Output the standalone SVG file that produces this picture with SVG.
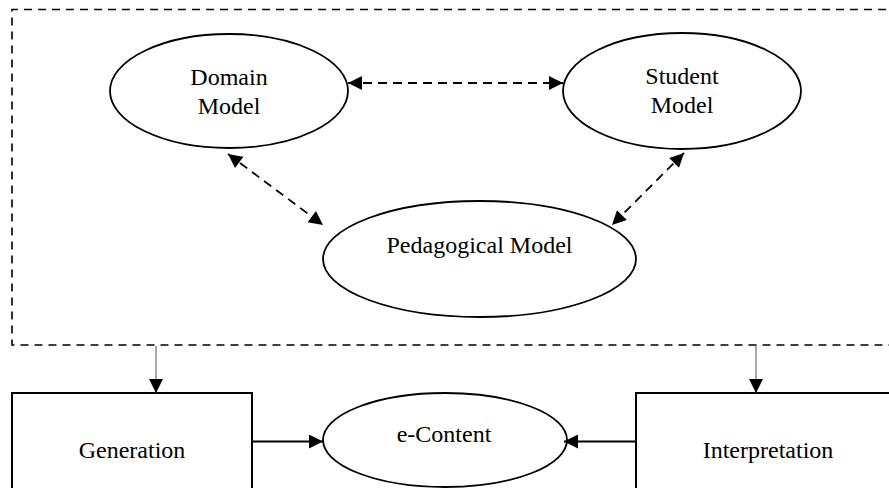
<svg xmlns="http://www.w3.org/2000/svg" width="889" height="488" viewBox="0 0 889 488">
<style>
.ell{fill:#fff;stroke:#000;stroke-width:1.8}
.box{fill:#fff;stroke:#000;stroke-width:2}
.frame{fill:none;stroke:#000;stroke-width:1.6;stroke-dasharray:8 6}
.dash{fill:none;stroke:#000;stroke-width:1.8;stroke-dasharray:9 6}
.solid{fill:none;stroke:#000;stroke-width:1.8}
.thin{fill:none;stroke:#555;stroke-width:1}
text{font-family:"Liberation Serif","Times New Roman",serif;font-size:24px;fill:#000;text-anchor:middle}
</style>
<defs>
<marker id="ah" viewBox="0 0 10 10" refX="10" refY="5" markerWidth="15" markerHeight="14" markerUnits="userSpaceOnUse" orient="auto-start-reverse">
<path d="M0 0 L10 5 L0 10 Z" fill="#000"/>
</marker>
</defs>
<g id="frame">
<path class="frame" d="M900 9.5 H12 V345 H900"/>
</g>
<g id="domain">
<ellipse class="ell" cx="229" cy="91" rx="119" ry="57"/>
<text x="229" y="85">Domain</text>
<text x="229" y="114">Model</text>
</g>
<g id="student">
<ellipse class="ell" cx="682" cy="91" rx="119" ry="58"/>
<text x="682" y="84">Student</text>
<text x="682" y="113">Model</text>
</g>
<g id="pedagogical">
<ellipse class="ell" cx="479.5" cy="259" rx="156.5" ry="58"/>
<text x="479.5" y="253">Pedagogical Model</text>
</g>
<g id="generation">
<rect class="box" x="12" y="393" width="240" height="110"/>
<text x="132" y="458">Generation</text>
</g>
<g id="econtent">
<ellipse class="ell" cx="445" cy="440" rx="122" ry="47"/>
<text x="444" y="442">e-Content</text>
</g>
<g id="interpretation">
<rect class="box" x="636" y="393" width="270" height="110"/>
<text x="768" y="458">Interpretation</text>
</g>
<g id="connectors">
<path class="dash" d="M348 83 H563" marker-start="url(#ah)" marker-end="url(#ah)"/>
<path class="dash" d="M228 154 L323 225" marker-start="url(#ah)" marker-end="url(#ah)"/>
<path class="dash" d="M684 153 L612 225" marker-start="url(#ah)" marker-end="url(#ah)"/>
<path class="thin" d="M156 346 V393" marker-end="url(#ah)"/>
<path class="thin" d="M756 346 V393" marker-end="url(#ah)"/>
<path class="solid" d="M252 441.5 H323" marker-end="url(#ah)"/>
<path class="solid" d="M636 441.5 H564" marker-end="url(#ah)"/>
</g>
</svg>
